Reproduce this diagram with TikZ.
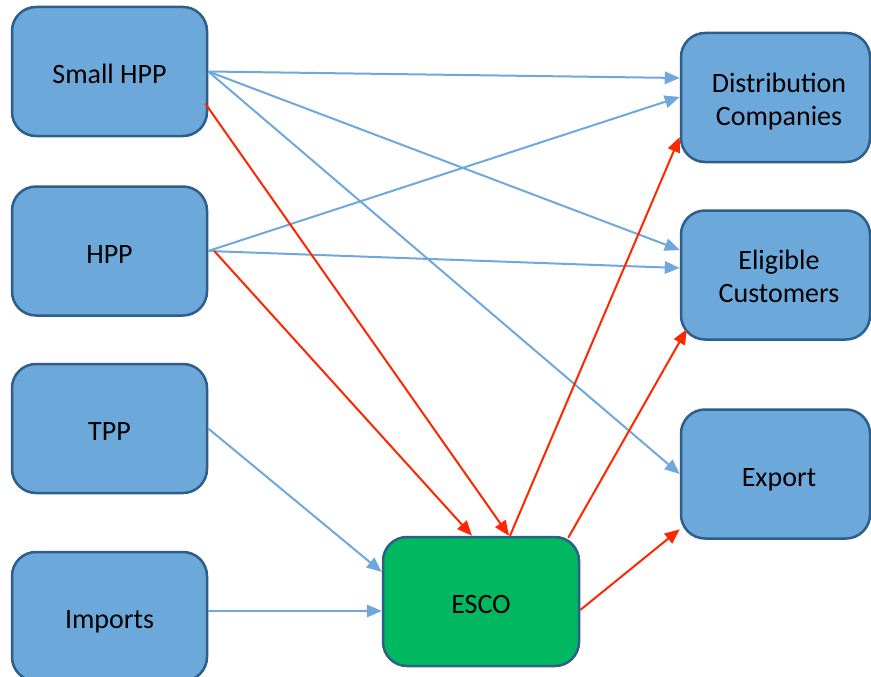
\documentclass[tikz,border=0pt]{standalone}
\usepackage{fontspec}
\setmainfont{Carlito}
\usetikzlibrary{arrows.meta}
\definecolor{boxblue}{RGB}{108,168,218}
\definecolor{boxedge}{RGB}{45,95,138}
\definecolor{escogreen}{RGB}{0,184,96}
\definecolor{lineblue}{RGB}{111,168,220}
\definecolor{linered}{RGB}{255,38,0}
\newcommand{\onelinetxt}[1]{\vrule height 31.4pt depth 7pt width 0pt #1}
\newcommand{\twolinetxt}[2]{\vrule height 29pt depth 0pt width 0pt #1\\#2\vrule height 0pt depth 7pt width 0pt}
\newcommand{\rpad}{\hspace*{7pt}}
\tikzset{
  box/.style={draw=boxedge, line width=2.5pt, fill=boxblue, rounded corners=24pt,
    minimum width=195pt, minimum height=129pt, align=center, inner sep=0pt,
    font=\fontsize{28}{33}\selectfont},
  rbox/.style={box, minimum width=189pt},
  escobox/.style={box, fill=escogreen, minimum width=196pt},
  bflow/.style={draw=lineblue, line width=2pt, -{Triangle[length=15pt,width=12.5pt]}},
  rflow/.style={draw=linered, line width=2pt, -{Triangle[length=15pt,width=12.5pt]}}
}
\begin{document}
\begin{tikzpicture}[x=1pt,y=-1pt]
\useasboundingbox (0,0) rectangle (871,677);
\node[box] (shpp) at (109.5,71.5) {\onelinetxt{Small HPP}};
\node[box] (hpp) at (109.5,251) {\onelinetxt{HPP}};
\node[box] (tpp) at (109.5,428.5) {\onelinetxt{TPP}};
\node[box] (imp) at (109.5,616.5) {\onelinetxt{Imports}};
\node[escobox] (esco) at (481,601.5) {\onelinetxt{ESCO}};
\node[rbox] (dist) at (775.5,97.5) {\twolinetxt{\rpad Distribution}{\rpad Companies}};
\node[rbox] (elig) at (775.5,275) {\twolinetxt{\rpad Eligible}{\rpad Customers}};
\node[rbox] (expo) at (775.5,474) {\onelinetxt{\rpad Export}};
% blue flows
\draw[bflow] (shpp.east) -- ([yshift=19.5pt]dist.west);
\draw[bflow] (shpp.east) -- ([yshift=25pt]elig.west);
\draw[bflow] (shpp.east) -- (expo.west);
\draw[bflow] (hpp.east) -- ([yshift=0.5pt]dist.west);
\draw[bflow] (hpp.east) -- ([yshift=7pt]elig.west);
\draw[bflow] (tpp.east) -- ([yshift=29.5pt]esco.west);
\draw[bflow] ([yshift=5.5pt]imp.east) -- ([yshift=-9.5pt]esco.west);
% red flows
\draw[rflow] ([xshift=-3pt,yshift=-32pt]shpp.east) -- ([xshift=28pt]esco.north);
\draw[rflow] ([xshift=6pt]hpp.east) -- ([xshift=-9pt]esco.north);
\draw[rflow] ([xshift=29pt]esco.north) -- ([yshift=-39.5pt]dist.west);
\draw[rflow] ([xshift=-12pt,yshift=-2pt]esco.north east) -- ([xshift=7pt,yshift=11.5pt]elig.south west);
\draw[rflow] ([yshift=-8.5pt]esco.east) -- ([yshift=10.5pt]expo.south west);
\end{tikzpicture}
\end{document}
